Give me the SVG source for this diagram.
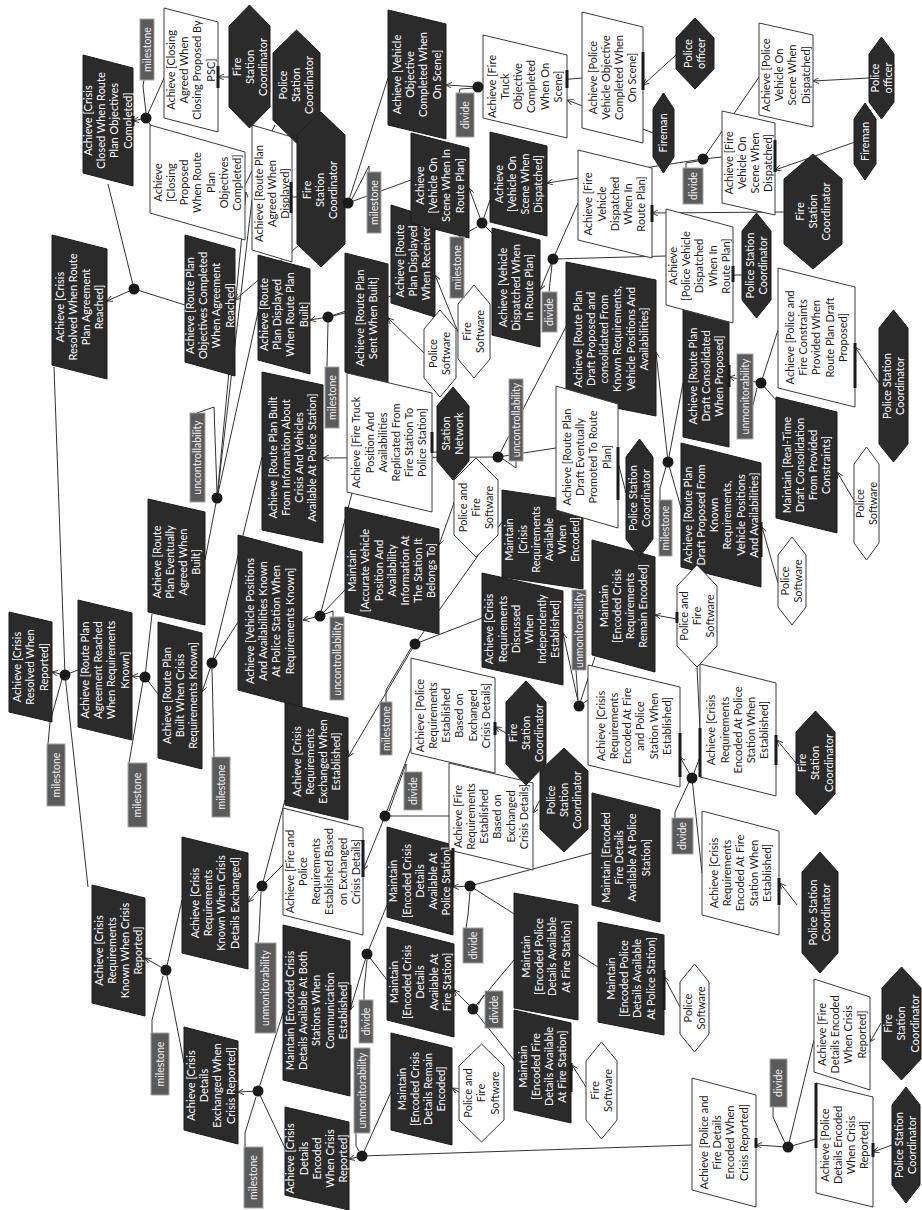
<svg xmlns="http://www.w3.org/2000/svg" width="922" height="1210" viewBox="0 0 922 1210">
<style>
.g{fill:#2b2b2b;stroke:#1c1c1c;stroke-width:1}
.w{fill:#fff;stroke:#3a3a3a;stroke-width:1}
.lb{fill:#5b5b5b;stroke:#a3a3a3;stroke-width:1}
text{font-family:Lato,"Liberation Sans",sans-serif;font-size:11px;text-anchor:middle}
.tw{fill:#fff}
.tk{fill:#1a1a1a}
.tl{fill:#f0f0f0;font-size:10.5px}
#connectors line,#connectors polyline{stroke:#333;stroke-width:1;fill:none}
#connectors .a{marker-end:url(#ah)}
.dot{fill:#1a1a1a}
#link-ends line{stroke:#1a1a1a;stroke-width:3}
</style>
<defs>
<marker id="ah" viewBox="0 0 8 8" refX="8" refY="4" markerWidth="6" markerHeight="6" orient="auto" markerUnits="userSpaceOnUse"><path d="M0,0 L8,4 L0,8" fill="none" stroke="#333" stroke-width="1.2"/></marker>
</defs>
<rect width="922" height="1210" fill="#fff"/>
<g id="connectors">
<line class="a" x1="146" y1="118" x2="133" y2="121"/><line x1="146" y1="118" x2="165" y2="76"/><line x1="146" y1="118" x2="151" y2="126"/>
<polyline points="144,80 143,86 146,113"/>
<line class="a" x1="134" y1="289" x2="107" y2="301"/><line x1="134" y1="289" x2="108" y2="184"/><line x1="134" y1="289" x2="185" y2="305"/>
<line x1="217" y1="498" x2="205" y2="560"/><line class="a" x1="217" y1="498" x2="246" y2="192"/><line x1="217" y1="498" x2="252" y2="200"/><line x1="217" y1="498" x2="258" y2="312"/>
<polyline points="197,413 214,407 217,493"/>
<line class="a" x1="65" y1="675" x2="52" y2="672"/><line x1="65" y1="675" x2="78" y2="670"/><line x1="65" y1="675" x2="54" y2="367"/><line x1="65" y1="675" x2="88" y2="887"/>
<polyline points="48,744 50,722 62,679"/>
<line class="a" x1="145" y1="677" x2="132" y2="676"/><line x1="145" y1="677" x2="158" y2="694"/><line x1="145" y1="677" x2="152" y2="614"/>
<line x1="129" y1="763" x2="143" y2="681"/>
<line class="a" x1="212" y1="663" x2="202" y2="692"/><line x1="212" y1="663" x2="238" y2="622"/><line x1="212" y1="663" x2="262" y2="457"/>
<line x1="214" y1="757" x2="212" y2="668"/>
<line class="a" x1="328" y1="317" x2="310" y2="320"/><line x1="328" y1="317" x2="345" y2="313"/><line x1="328" y1="317" x2="391" y2="296"/>
<line x1="327" y1="367" x2="328" y2="322"/>
<line class="a" x1="478" y1="87" x2="446" y2="85"/><line x1="478" y1="87" x2="483" y2="88"/><line x1="478" y1="87" x2="582" y2="78"/>
<polyline points="459,93 460,89 474,88"/>
<line class="a" x1="348" y1="203" x2="235" y2="300"/><line x1="348" y1="203" x2="388" y2="78"/><line x1="348" y1="203" x2="411" y2="180"/>
<polyline points="369,172 369,166 352,199"/>
<line class="a" x1="482" y1="223" x2="469" y2="188"/><line x1="482" y1="223" x2="490" y2="200"/><line x1="482" y1="223" x2="492" y2="233"/>
<polyline points="459,237 477,227"/>
<line class="a" x1="553" y1="259" x2="540" y2="290"/><line x1="553" y1="259" x2="578" y2="203"/><line x1="553" y1="259" x2="666" y2="256"/>
<line x1="549" y1="292" x2="552" y2="264"/>
<line class="a" x1="703" y1="159" x2="547" y2="183"/><line x1="703" y1="159" x2="722" y2="157"/><line x1="703" y1="159" x2="759" y2="77"/>
<polyline points="686,168 686,163 698,161"/>
<line class="a" x1="498" y1="457" x2="323" y2="458"/><line x1="498" y1="457" x2="556" y2="448"/><line x1="498" y1="457" x2="568" y2="323"/>
<polyline points="516,461 516,468 503,459"/>
<line class="a" x1="761" y1="383" x2="729" y2="377"/><line x1="761" y1="383" x2="778" y2="330"/><line x1="761" y1="383" x2="776" y2="400"/>
<polyline points="745,439 757,388"/>
<line class="a" x1="668" y1="462" x2="656" y2="352"/><line x1="668" y1="462" x2="683" y2="383"/><line x1="668" y1="462" x2="681" y2="508"/>
<polyline points="660,500 660,488 666,467"/>
<line class="a" x1="579" y1="706" x2="563" y2="633"/><line x1="579" y1="706" x2="595" y2="657"/><line x1="579" y1="706" x2="588" y2="700"/>
<line x1="576" y1="670" x2="578" y2="700"/>
<line class="a" x1="692" y1="778" x2="680" y2="757"/><line x1="692" y1="778" x2="700" y2="757"/><line x1="692" y1="778" x2="702" y2="873"/>
<polyline points="675,818 675,812 689,782"/>
<line class="a" x1="320" y1="616" x2="303" y2="620"/><line x1="320" y1="616" x2="345" y2="590"/><line x1="320" y1="616" x2="352" y2="493"/>
<polyline points="333,617 333,611 325,614"/>
<line class="a" x1="415" y1="644" x2="348" y2="757"/><line x1="415" y1="644" x2="482" y2="618"/><line x1="415" y1="644" x2="502" y2="522"/>
<polyline points="386,702 386,690 411,648"/>
<line class="a" x1="385" y1="816" x2="363" y2="870"/><line x1="385" y1="816" x2="411" y2="748"/><line x1="385" y1="816" x2="449" y2="816"/>
<polyline points="406,772 406,764 389,811"/>
<line class="a" x1="262" y1="886" x2="248" y2="902"/><line x1="262" y1="886" x2="283" y2="865"/><line x1="262" y1="886" x2="285" y2="800"/>
<polyline points="258,943 259,933 261,892"/>
<line class="a" x1="166" y1="970" x2="145" y2="958"/><line x1="166" y1="970" x2="182" y2="900"/><line x1="166" y1="970" x2="184" y2="1063"/>
<polyline points="152,1033 152,1020 163,976"/>
<line class="a" x1="258" y1="1091" x2="238" y2="1092"/><line x1="258" y1="1091" x2="283" y2="1013"/><line x1="258" y1="1091" x2="285" y2="1148"/>
<polyline points="245,1147 245,1133 256,1097"/>
<line class="a" x1="362" y1="1156" x2="349" y2="1159"/><line x1="362" y1="1156" x2="391" y2="1092"/><line x1="362" y1="1156" x2="692" y2="1145"/>
<polyline points="356,1133 356,1146 359,1151"/>
<line class="a" x1="367" y1="954" x2="350" y2="1010"/><line x1="367" y1="954" x2="387" y2="980"/><line x1="367" y1="954" x2="387" y2="905"/>
<polyline points="364,1000 364,990 367,960"/>
<line class="a" x1="470" y1="886" x2="453" y2="887"/><line x1="470" y1="886" x2="592" y2="853"/><line x1="470" y1="886" x2="598" y2="967"/>
<polyline points="466,928 468,915 470,892"/>
<line class="a" x1="473" y1="1009" x2="454" y2="990"/><line x1="473" y1="1009" x2="514" y2="960"/><line x1="473" y1="1009" x2="514" y2="1060"/>
<polyline points="486,997 484,995 478,1005"/>
<line class="a" x1="788" y1="1147" x2="756" y2="1145"/><line x1="788" y1="1147" x2="814" y2="1040"/><line x1="788" y1="1147" x2="816" y2="1139"/>
<polyline points="773,1107 773,1117 785,1143"/>
<line class="a" x1="229" y1="77" x2="218" y2="77"/>
<line x1="275" y1="125" x2="245" y2="185"/>
<line x1="297" y1="197" x2="292" y2="197"/>
<line class="a" x1="676" y1="55" x2="643" y2="85"/>
<line class="a" x1="653" y1="133" x2="567" y2="100"/>
<line class="a" x1="869" y1="78" x2="813" y2="81"/>
<line class="a" x1="855" y1="142" x2="775" y2="170"/>
<line class="a" x1="784" y1="212" x2="652" y2="213"/>
<line x1="742" y1="275" x2="733" y2="275"/>
<line class="a" x1="879" y1="383" x2="855" y2="347"/>
<line x1="626" y1="493" x2="618" y2="462"/>
<line x1="437" y1="452" x2="432" y2="452"/>
<line class="a" x1="424" y1="353" x2="388" y2="318"/>
<line class="a" x1="458" y1="332" x2="435" y2="275"/>
<line class="a" x1="455" y1="500" x2="439" y2="545"/>
<line class="a" x1="855" y1="502" x2="837" y2="472"/>
<line class="a" x1="778" y1="583" x2="762" y2="527"/>
<line class="a" x1="677" y1="619" x2="655" y2="615"/>
<line x1="697" y1="667" x2="700" y2="730"/>
<line class="a" x1="506" y1="733" x2="495" y2="727"/>
<line class="a" x1="540" y1="800" x2="533" y2="813"/>
<line class="a" x1="796" y1="763" x2="777" y2="740"/>
<line class="a" x1="797" y1="905" x2="780" y2="883"/>
<line class="a" x1="459" y1="1092" x2="452" y2="1088"/>
<line class="a" x1="586" y1="1087" x2="572" y2="1065"/>
<line class="a" x1="680" y1="1007" x2="664" y2="977"/>
<line class="a" x1="881" y1="1023" x2="870" y2="1042"/>
<line class="a" x1="892" y1="1145" x2="873" y2="1152"/>
</g>

<!-- black goals -->
<g id="G1"><polygon class="g" points="9,612 52,622 52,722 9,712"/><text class="tw" transform="translate(30.5,667) rotate(-90)"><tspan x="0" y="-9.4">Achieve [Crisis</tspan><tspan x="0" y="3.8">Resolved When</tspan><tspan x="0" y="17">Reported]</tspan></text></g>
<g id="G2"><polygon class="g" points="52,235 107,249 107,379 52,365"/><text class="tw" transform="translate(79.5,307) rotate(-90)"><tspan x="0" y="-16">Achieve [Crisis</tspan><tspan x="0" y="-2.8">Resolved When Route</tspan><tspan x="0" y="10.4">Plan Agreement</tspan><tspan x="0" y="23.6">Reached]</tspan></text></g>
<g id="G3"><polygon class="g" points="83,55 133,68 133,186 83,173"/><text class="tw" transform="translate(108,120.5) rotate(-90)"><tspan x="0" y="-16">Achieve [Crisis</tspan><tspan x="0" y="-2.8">Closed When Route</tspan><tspan x="0" y="10.4">Plan Objectives</tspan><tspan x="0" y="23.6">Completed]</tspan></text></g>
<g id="G4"><polygon class="g" points="185,235 235,249 235,376 185,362"/><text class="tw" transform="translate(210,305.5) rotate(-90)"><tspan x="0" y="-16">Achieve [Route Plan</tspan><tspan x="0" y="-2.8">Objectives Completed</tspan><tspan x="0" y="10.4">When Agreement</tspan><tspan x="0" y="23.6">Reached]</tspan></text></g>
<g id="G5"><polygon class="g" points="258,255 310,269 310,374 258,360"/><text class="tw" transform="translate(284,314.5) rotate(-90)"><tspan x="0" y="-16">Achieve [Route</tspan><tspan x="0" y="-2.8">Plan Displayed</tspan><tspan x="0" y="10.4">When Route Plan</tspan><tspan x="0" y="23.6">Built]</tspan></text></g>
<g id="G6"><polygon class="g" points="345,253 388,264 388,383 345,372"/><text class="tw" transform="translate(366.5,318) rotate(-90)"><tspan x="0" y="-2.8">Achieve [Route Plan</tspan><tspan x="0" y="10.4">Sent When Built]</tspan></text></g>
<g id="G7"><polygon class="g" points="391,205 435,219 435,317 391,303"/><text class="tw" transform="translate(413,261) rotate(-90)"><tspan x="0" y="-9.4">Achieve [Route</tspan><tspan x="0" y="3.8">Plan Displayed</tspan><tspan x="0" y="17">When Received]</tspan></text></g>
<g id="G8"><polygon class="g" points="388,10 446,24 446,139 388,125"/><text class="tw" transform="translate(417,74.5) rotate(-90)"><tspan x="0" y="-16">Achieve [Vehicle</tspan><tspan x="0" y="-2.8">Objective</tspan><tspan x="0" y="10.4">Completed When</tspan><tspan x="0" y="23.6">On Scene]</tspan></text></g>
<g id="G9"><polygon class="g" points="411,133 469,148 469,238 411,223"/><text class="tw" transform="translate(440,185.5) rotate(-90)"><tspan x="0" y="-16">Achieve</tspan><tspan x="0" y="-2.8">[Vehicle On</tspan><tspan x="0" y="10.4">Scene When In</tspan><tspan x="0" y="23.6">Route Plan]</tspan></text></g>
<g id="G10"><polygon class="g" points="490,132 547,146 547,236 490,222"/><text class="tw" transform="translate(518.5,184) rotate(-90)"><tspan x="0" y="-16">Achieve</tspan><tspan x="0" y="-2.8">[Vehicle On</tspan><tspan x="0" y="10.4">Scene When</tspan><tspan x="0" y="23.6">Dispatched]</tspan></text></g>
<g id="G11"><polygon class="g" points="492,228 540,240 540,347 492,335"/><text class="tw" transform="translate(516,287.5) rotate(-90)"><tspan x="0" y="-9.4">Achieve [Vehicle</tspan><tspan x="0" y="3.8">Dispatched When</tspan><tspan x="0" y="17">In Route Plan]</tspan></text></g>
<g id="G12"><polygon class="g" points="566,262 656,280 656,416 566,398"/><text class="tw" transform="translate(611,339) rotate(-90)"><tspan x="0" y="-29.2">Achieve [Route Plan</tspan><tspan x="0" y="-16">Draft Proposed and</tspan><tspan x="0" y="-2.8">consolidated From</tspan><tspan x="0" y="10.4">Known Requirements,</tspan><tspan x="0" y="23.6">Vehicle Positions And</tspan><tspan x="0" y="36.8">Availabilities]</tspan></text></g>
<g id="G13"><polygon class="g" points="683,305 729,315 729,447 683,437"/><text class="tw" transform="translate(706,376) rotate(-90)"><tspan x="0" y="-9.4">Achieve [Route Plan</tspan><tspan x="0" y="3.8">Draft Consolidated</tspan><tspan x="0" y="17">When Proposed]</tspan></text></g>
<g id="G14"><polygon class="g" points="776,397 837,412 837,533 776,518"/><text class="tw" transform="translate(806.5,465) rotate(-90)"><tspan x="0" y="-16">Maintain [Real-Time</tspan><tspan x="0" y="-2.8">Draft Consolidation</tspan><tspan x="0" y="10.4">From Provided</tspan><tspan x="0" y="23.6">Constraints]</tspan></text></g>
<g id="G15"><polygon class="g" points="681,443 761,463 761,587 681,567"/><text class="tw" transform="translate(721,515) rotate(-90)"><tspan x="0" y="-29.2">Achieve [Route Plan</tspan><tspan x="0" y="-16">Draft Proposed From</tspan><tspan x="0" y="-2.8">Known</tspan><tspan x="0" y="10.4">Requirements,</tspan><tspan x="0" y="23.6">Vehicle Positions</tspan><tspan x="0" y="36.8">And Availabilities]</tspan></text></g>
<g id="G16"><polygon class="g" points="262,372 323,385 323,543 262,530"/><text class="tw" transform="translate(292.5,457.5) rotate(-90)"><tspan x="0" y="-16">Achieve [Route Plan Built</tspan><tspan x="0" y="-2.8">From Information About</tspan><tspan x="0" y="10.4">Crisis And Vehicles</tspan><tspan x="0" y="23.6">Available At Police Station]</tspan></text></g>
<g id="G17"><polygon class="g" points="148,499 205,512 205,625 148,612"/><text class="tw" transform="translate(176.5,562) rotate(-90)"><tspan x="0" y="-16">Achieve [Route</tspan><tspan x="0" y="-2.8">Plan Eventually</tspan><tspan x="0" y="10.4">Agreed When</tspan><tspan x="0" y="23.6">Built]</tspan></text></g>
<g id="G18"><polygon class="g" points="78,600 132,613 132,740 78,727"/><text class="tw" transform="translate(105,670) rotate(-90)"><tspan x="0" y="-16">Achieve [Route Plan</tspan><tspan x="0" y="-2.8">Agreement Reached</tspan><tspan x="0" y="10.4">When Requirements</tspan><tspan x="0" y="23.6">Known]</tspan></text></g>
<g id="G19"><polygon class="g" points="158,622 202,633 202,769 158,758"/><text class="tw" transform="translate(180,695.5) rotate(-90)"><tspan x="0" y="-9.4">Achieve [Route Plan</tspan><tspan x="0" y="3.8">Built When Crisis</tspan><tspan x="0" y="17">Requirements Known]</tspan></text></g>
<g id="G20"><polygon class="g" points="238,535 302,552 302,707 238,690"/><text class="tw" transform="translate(270,621) rotate(-90)"><tspan x="0" y="-16">Achieve [Vehicle Positions</tspan><tspan x="0" y="-2.8">And Availabilities Known</tspan><tspan x="0" y="10.4">At Police Station When</tspan><tspan x="0" y="23.6">Requirements Known]</tspan></text></g>
<g id="G21"><polygon class="g" points="345,507 439,529 439,634 345,612"/><text class="tw" transform="translate(392,570.5) rotate(-90)"><tspan x="0" y="-35.8">Maintain</tspan><tspan x="0" y="-22.6">[Accurate Vehicle</tspan><tspan x="0" y="-9.4">Position And</tspan><tspan x="0" y="3.8">Availability</tspan><tspan x="0" y="17">Information At</tspan><tspan x="0" y="30.2">The Station It</tspan><tspan x="0" y="43.4">Belongs To]</tspan></text></g>
<g id="G22"><polygon class="g" points="502,490 583,502 583,589 502,577"/><text class="tw" transform="translate(542.5,539.5) rotate(-90)"><tspan x="0" y="-29.2">Maintain</tspan><tspan x="0" y="-16">[Crisis</tspan><tspan x="0" y="-2.8">Requirements</tspan><tspan x="0" y="10.4">Available</tspan><tspan x="0" y="23.6">When</tspan><tspan x="0" y="36.8">Encoded]</tspan></text></g>
<g id="G23"><polygon class="g" points="482,573 563,591 563,685 482,667"/><text class="tw" transform="translate(522.5,629) rotate(-90)"><tspan x="0" y="-29.2">Achieve [Crisis</tspan><tspan x="0" y="-16">Requirements</tspan><tspan x="0" y="-2.8">Discussed</tspan><tspan x="0" y="10.4">When</tspan><tspan x="0" y="23.6">Independently</tspan><tspan x="0" y="36.8">Established]</tspan></text></g>
<g id="G24"><polygon class="g" points="592,540 655,557 655,672 592,655"/><text class="tw" transform="translate(623.5,606) rotate(-90)"><tspan x="0" y="-16">Maintain</tspan><tspan x="0" y="-2.8">[Encoded Crisis</tspan><tspan x="0" y="10.4">Requirements</tspan><tspan x="0" y="23.6">Remain Encoded]</tspan></text></g>
<g id="G25"><polygon class="g" points="285,703 348,718 348,820 285,805"/><text class="tw" transform="translate(316.5,761.5) rotate(-90)"><tspan x="0" y="-16">Achieve [Crisis</tspan><tspan x="0" y="-2.8">Requirements</tspan><tspan x="0" y="10.4">Exchanged When</tspan><tspan x="0" y="23.6">Established]</tspan></text></g>
<g id="G26"><polygon class="g" points="182,837 248,853 248,969 182,953"/><text class="tw" transform="translate(215,903) rotate(-90)"><tspan x="0" y="-16">Achieve [Crisis</tspan><tspan x="0" y="-2.8">Requirements</tspan><tspan x="0" y="10.4">Known When Crisis</tspan><tspan x="0" y="23.6">Details Exchanged]</tspan></text></g>
<g id="G27"><polygon class="g" points="92,885 145,898 145,1016 92,1003"/><text class="tw" transform="translate(118.5,950.5) rotate(-90)"><tspan x="0" y="-16">Achieve [Crisis</tspan><tspan x="0" y="-2.8">Requirements</tspan><tspan x="0" y="10.4">Known When Crisis</tspan><tspan x="0" y="23.6">Reported]</tspan></text></g>
<g id="G28"><polygon class="g" points="184,1027 238,1041 238,1144 184,1130"/><text class="tw" transform="translate(211,1085.5) rotate(-90)"><tspan x="0" y="-16">Achieve [Crisis</tspan><tspan x="0" y="-2.8">Details</tspan><tspan x="0" y="10.4">Exchanged When</tspan><tspan x="0" y="23.6">Crisis Reported]</tspan></text></g>
<g id="G29"><polygon class="g" points="285,1107 349,1122 349,1210 285,1195"/><text class="tw" transform="translate(317,1158.5) rotate(-90)"><tspan x="0" y="-22.6">Achieve [Crisis</tspan><tspan x="0" y="-9.4">Details</tspan><tspan x="0" y="3.8">Encoded</tspan><tspan x="0" y="17">When Crisis</tspan><tspan x="0" y="30.2">Reported]</tspan></text></g>
<g id="G30"><polygon class="g" points="283,925 350,941 350,1096 283,1080"/><text class="tw" transform="translate(316.5,1010.5) rotate(-90)"><tspan x="0" y="-22.6">Maintain [Encoded Crisis</tspan><tspan x="0" y="-9.4">Details Available At Both</tspan><tspan x="0" y="3.8">Stations When</tspan><tspan x="0" y="17">Communication</tspan><tspan x="0" y="30.2">Established]</tspan></text></g>
<g id="G31"><polygon class="g" points="387,827 453,845 453,935 387,917"/><text class="tw" transform="translate(420,881) rotate(-90)"><tspan x="0" y="-22.6">Maintain</tspan><tspan x="0" y="-9.4">[Encoded Crisis</tspan><tspan x="0" y="3.8">Details</tspan><tspan x="0" y="17">Available At</tspan><tspan x="0" y="30.2">Police Station]</tspan></text></g>
<g id="G32"><polygon class="g" points="387,927 454,944 454,1037 387,1020"/><text class="tw" transform="translate(420.5,982) rotate(-90)"><tspan x="0" y="-22.6">Maintain</tspan><tspan x="0" y="-9.4">[Encoded Crisis</tspan><tspan x="0" y="3.8">Details</tspan><tspan x="0" y="17">Available At</tspan><tspan x="0" y="30.2">Fire Station]</tspan></text></g>
<g id="G33"><polygon class="g" points="391,1033 452,1048 452,1145 391,1130"/><text class="tw" transform="translate(421.5,1089) rotate(-90)"><tspan x="0" y="-16">Maintain</tspan><tspan x="0" y="-2.8">[Encoded Crisis</tspan><tspan x="0" y="10.4">Details Remain</tspan><tspan x="0" y="23.6">Encoded]</tspan></text></g>
<g id="G34"><polygon class="g" points="514,893 578,905 578,1020 514,1008"/><text class="tw" transform="translate(546,956.5) rotate(-90)"><tspan x="0" y="-16">Maintain</tspan><tspan x="0" y="-2.8">[Encoded Police</tspan><tspan x="0" y="10.4">Details Available</tspan><tspan x="0" y="23.6">At Fire Station]</tspan></text></g>
<g id="G35"><polygon class="g" points="514,1010 571,1023 571,1123 514,1110"/><text class="tw" transform="translate(542.5,1066.5) rotate(-90)"><tspan x="0" y="-16">Maintain</tspan><tspan x="0" y="-2.8">[Encoded Fire</tspan><tspan x="0" y="10.4">Details Available</tspan><tspan x="0" y="23.6">At Fire Station]</tspan></text></g>
<g id="G36"><polygon class="g" points="592,793 660,810 660,922 592,905"/><text class="tw" transform="translate(626,857.5) rotate(-90)"><tspan x="0" y="-16">Maintain [Encoded</tspan><tspan x="0" y="-2.8">Fire Details</tspan><tspan x="0" y="10.4">Available At Police</tspan><tspan x="0" y="23.6">Station]</tspan></text></g>
<g id="G37"><polygon class="g" points="598,922 664,935 664,1035 598,1022"/><text class="tw" transform="translate(631,978.5) rotate(-90)"><tspan x="0" y="-16">Maintain</tspan><tspan x="0" y="-2.8">[Encoded Police</tspan><tspan x="0" y="10.4">Details Available</tspan><tspan x="0" y="23.6">At Police Station]</tspan></text></g>

<!-- white goals -->
<g id="W1"><polygon class="w" points="164,8 218,22 218,132 164,118"/><text class="tk" transform="translate(191,70) rotate(-90)"><tspan x="0" y="-16">Achieve [Closing</tspan><tspan x="0" y="-2.8">Agreed When</tspan><tspan x="0" y="10.4">Closing Proposed By</tspan><tspan x="0" y="23.6">PSC]</tspan></text></g>
<g id="W2"><polygon class="w" points="150,125 245,152 245,240 150,213"/><text class="tk" transform="translate(197.5,182.5) rotate(-90)"><tspan x="0" y="-35.8">Achieve</tspan><tspan x="0" y="-22.6">[Closing</tspan><tspan x="0" y="-9.4">Proposed</tspan><tspan x="0" y="3.8">When Route</tspan><tspan x="0" y="17">Plan</tspan><tspan x="0" y="30.2">Objectives</tspan><tspan x="0" y="43.4">Completed]</tspan></text></g>
<g id="W3"><polygon class="w" points="252,125 292,137 292,262 252,250"/><text class="tk" transform="translate(272,193.5) rotate(-90)"><tspan x="0" y="-9.4">Achieve [Route Plan</tspan><tspan x="0" y="3.8">Agreed When</tspan><tspan x="0" y="17">Displayed]</tspan></text></g>
<g id="W4"><polygon class="w" points="483,35 567,55 567,138 483,118"/><text class="tk" transform="translate(525,86.5) rotate(-90)"><tspan x="0" y="-29.2">Achieve [Fire</tspan><tspan x="0" y="-16">Truck</tspan><tspan x="0" y="-2.8">Objective</tspan><tspan x="0" y="10.4">Completed</tspan><tspan x="0" y="23.6">When On</tspan><tspan x="0" y="36.8">Scene]</tspan></text></g>
<g id="W5"><polygon class="w" points="582,12 643,27 643,143 582,128"/><text class="tk" transform="translate(612.5,77.5) rotate(-90)"><tspan x="0" y="-16">Achieve [Police</tspan><tspan x="0" y="-2.8">Vehicle Objective</tspan><tspan x="0" y="10.4">Completed When</tspan><tspan x="0" y="23.6">On Scene]</tspan></text></g>
<g id="W6"><polygon class="w" points="759,23 813,35 813,127 759,115"/><text class="tk" transform="translate(786,75) rotate(-90)"><tspan x="0" y="-16">Achieve [Police</tspan><tspan x="0" y="-2.8">Vehicle On</tspan><tspan x="0" y="10.4">Scene When</tspan><tspan x="0" y="23.6">Dispatched]</tspan></text></g>
<g id="W7"><polygon class="w" points="722,111 775,123 775,215 722,203"/><text class="tk" transform="translate(748.5,163) rotate(-90)"><tspan x="0" y="-16">Achieve [Fire</tspan><tspan x="0" y="-2.8">Vehicle On</tspan><tspan x="0" y="10.4">Scene When</tspan><tspan x="0" y="23.6">Dispatched]</tspan></text></g>
<g id="W8"><polygon class="w" points="578,150 652,168 652,258 578,240"/><text class="tk" transform="translate(615,204) rotate(-90)"><tspan x="0" y="-22.6">Achieve [Fire</tspan><tspan x="0" y="-9.4">Vehicle</tspan><tspan x="0" y="3.8">Dispatched</tspan><tspan x="0" y="17">When In</tspan><tspan x="0" y="30.2">Route Plan]</tspan></text></g>
<g id="W9"><polygon class="w" points="666,209 733,227 733,323 666,305"/><text class="tk" transform="translate(699.5,266) rotate(-90)"><tspan x="0" y="-22.6">Achieve</tspan><tspan x="0" y="-9.4">[Police Vehicle</tspan><tspan x="0" y="3.8">Dispatched</tspan><tspan x="0" y="17">When In</tspan><tspan x="0" y="30.2">Route Plan]</tspan></text></g>
<g id="W10"><polygon class="w" points="778,268 855,287 855,407 778,388"/><text class="tk" transform="translate(816.5,337.5) rotate(-90)"><tspan x="0" y="-22.6">Achieve [Police and</tspan><tspan x="0" y="-9.4">Fire Constraints</tspan><tspan x="0" y="3.8">Provided When</tspan><tspan x="0" y="17">Route Plan Draft</tspan><tspan x="0" y="30.2">Proposed]</tspan></text></g>
<g id="W11"><polygon class="w" points="347,373 432,393 432,512 347,492"/><text class="tk" transform="translate(389.5,442.5) rotate(-90)"><tspan x="0" y="-29.2">Achieve [Fire Truck</tspan><tspan x="0" y="-16">Position And</tspan><tspan x="0" y="-2.8">Availabilities</tspan><tspan x="0" y="10.4">Replicated From</tspan><tspan x="0" y="23.6">Fire Station To</tspan><tspan x="0" y="36.8">Police Station]</tspan></text></g>
<g id="W12"><polygon class="w" points="556,386 618,404 618,528 556,510"/><text class="tk" transform="translate(587,457) rotate(-90)"><tspan x="0" y="-16">Achieve [Route Plan</tspan><tspan x="0" y="-2.8">Draft Eventually</tspan><tspan x="0" y="10.4">Promoted To Route</tspan><tspan x="0" y="23.6">Plan]</tspan></text></g>
<g id="W13"><polygon class="w" points="411,658 495,678 495,773 411,753"/><text class="tk" transform="translate(453,715.5) rotate(-90)"><tspan x="0" y="-29.2">Achieve [Police</tspan><tspan x="0" y="-16">Requirements</tspan><tspan x="0" y="-2.8">Established</tspan><tspan x="0" y="10.4">Based on</tspan><tspan x="0" y="23.6">Exchanged</tspan><tspan x="0" y="36.8">Crisis Details]</tspan></text></g>
<g id="W14"><polygon class="w" points="449,763 533,783 533,870 449,850"/><text class="tk" transform="translate(491,816.5) rotate(-90)"><tspan x="0" y="-29.2">Achieve [Fire</tspan><tspan x="0" y="-16">Requirements</tspan><tspan x="0" y="-2.8">Established</tspan><tspan x="0" y="10.4">Based on</tspan><tspan x="0" y="23.6">Exchanged</tspan><tspan x="0" y="36.8">Crisis Details]</tspan></text></g>
<g id="W15"><polygon class="w" points="283,808 363,828 363,935 283,915"/><text class="tk" transform="translate(323,871.5) rotate(-90)"><tspan x="0" y="-29.2">Achieve [Fire and</tspan><tspan x="0" y="-16">Police</tspan><tspan x="0" y="-2.8">Requirements</tspan><tspan x="0" y="10.4">Established Based</tspan><tspan x="0" y="23.6">on Exchanged</tspan><tspan x="0" y="36.8">Crisis Details]</tspan></text></g>
<g id="W16"><polygon class="w" points="588,665 680,687 680,787 588,765"/><text class="tk" transform="translate(634,726) rotate(-90)"><tspan x="0" y="-29.2">Achieve [Crisis</tspan><tspan x="0" y="-16">Requirements</tspan><tspan x="0" y="-2.8">Encoded At Fire</tspan><tspan x="0" y="10.4">and Police</tspan><tspan x="0" y="23.6">Station When</tspan><tspan x="0" y="36.8">Established]</tspan></text></g>
<g id="W17"><polygon class="w" points="700,664 776,683 776,796 700,777"/><text class="tk" transform="translate(738,730) rotate(-90)"><tspan x="0" y="-22.6">Achieve [Crisis</tspan><tspan x="0" y="-9.4">Requirements</tspan><tspan x="0" y="3.8">Encoded At Police</tspan><tspan x="0" y="17">Station When</tspan><tspan x="0" y="30.2">Established]</tspan></text></g>
<g id="W18"><polygon class="w" points="702,811 779,831 779,935 702,915"/><text class="tk" transform="translate(740.5,873) rotate(-90)"><tspan x="0" y="-22.6">Achieve [Crisis</tspan><tspan x="0" y="-9.4">Requirements</tspan><tspan x="0" y="3.8">Encoded At Fire</tspan><tspan x="0" y="17">Station When</tspan><tspan x="0" y="30.2">Established]</tspan></text></g>
<g id="W19"><polygon class="w" points="692,1078 756,1095 756,1207 692,1190"/><text class="tk" transform="translate(724,1142.5) rotate(-90)"><tspan x="0" y="-16">Achieve [Police and</tspan><tspan x="0" y="-2.8">Fire Details</tspan><tspan x="0" y="10.4">Encoded When</tspan><tspan x="0" y="23.6">Crisis Reported]</tspan></text></g>
<g id="W20"><polygon class="w" points="814,979 870,997 870,1090 814,1072"/><text class="tk" transform="translate(842,1034.5) rotate(-90)"><tspan x="0" y="-16">Achieve [Fire</tspan><tspan x="0" y="-2.8">Details Encoded</tspan><tspan x="0" y="10.4">When Crisis</tspan><tspan x="0" y="23.6">Reported]</tspan></text></g>
<g id="W21"><polygon class="w" points="816,1083 873,1097 873,1207 816,1193"/><text class="tk" transform="translate(844.5,1145) rotate(-90)"><tspan x="0" y="-16">Achieve [Police</tspan><tspan x="0" y="-2.8">Details Encoded</tspan><tspan x="0" y="10.4">When Crisis</tspan><tspan x="0" y="23.6">Reported]</tspan></text></g>

<!-- agents -->
<g id="A1"><polygon class="g" points="249.5,5 270,26 270,107 249.5,128 229,107 229,26"/><text class="tw" transform="translate(250,67) rotate(-90)"><tspan x="0" y="-9.4">Fire</tspan><tspan x="0" y="3.8">Station</tspan><tspan x="0" y="17">Coordinator</tspan></text></g>
<g id="A2"><polygon class="g" points="296.5,30 320,53 320,120 296.5,143 273,120 273,53"/><text class="tw" transform="translate(296,85) rotate(-90)"><tspan x="0" y="-9.4">Police</tspan><tspan x="0" y="3.8">Station</tspan><tspan x="0" y="17">Coordinator</tspan></text></g>
<g id="A3"><polygon class="g" points="321,112 345,135 345,244 321,267 297,244 297,135"/><text class="tw" transform="translate(320,190) rotate(-90)"><tspan x="0" y="-9.4">Fire</tspan><tspan x="0" y="3.8">Station</tspan><tspan x="0" y="17">Coordinator</tspan></text></g>
<g id="A4"><polygon class="g" points="695,18 714,38 714,69 695,89 676,69 676,38"/><text class="tw" transform="translate(695,53.5) rotate(-90)"><tspan x="0" y="-2.8">Police</tspan><tspan x="0" y="10.4">officer</tspan></text></g>
<g id="A5"><polygon class="g" points="663.5,93 674,109 674,157 663.5,173 653,157 653,109"/><text class="tw" transform="translate(663.5,133) rotate(-90)"><tspan x="0" y="3.8">Fireman</tspan></text></g>
<g id="A6"><polygon class="g" points="881.5,37 894,54 894,102 881.5,119 869,102 869,54"/><text class="tw" transform="translate(881.5,78) rotate(-90)"><tspan x="0" y="-2.8">Police</tspan><tspan x="0" y="10.4">officer</tspan></text></g>
<g id="A7"><polygon class="g" points="865,103 876,119 876,164 865,180 854,164 854,119"/><text class="tw" transform="translate(865,141.5) rotate(-90)"><tspan x="0" y="3.8">Fireman</tspan></text></g>
<g id="A8"><polygon class="g" points="813,154 842,179 842,244 813,269 784,244 784,179"/><text class="tw" transform="translate(813,211.5) rotate(-90)"><tspan x="0" y="-9.4">Fire</tspan><tspan x="0" y="3.8">Station</tspan><tspan x="0" y="17">Coordinator</tspan></text></g>
<g id="A9"><polygon class="g" points="756.5,213 771,231 771,300 756.5,318 742,300 742,231"/><text class="tw" transform="translate(756.5,265.5) rotate(-90)"><tspan x="0" y="-2.8">Police Station</tspan><tspan x="0" y="10.4">Coordinator</tspan></text></g>
<g id="A10"><polygon class="g" points="893.5,310 908,328 908,444 893.5,462 879,444 879,328"/><text class="tw" transform="translate(893.5,386) rotate(-90)"><tspan x="0" y="-2.8">Police Station</tspan><tspan x="0" y="10.4">Coordinator</tspan></text></g>
<g id="A11"><polygon class="g" points="639.5,439 653,457 653,539 639.5,557 626,539 626,457"/><text class="tw" transform="translate(639.5,498) rotate(-90)"><tspan x="0" y="-2.8">Police Station</tspan><tspan x="0" y="10.4">Coordinator</tspan></text></g>
<g id="A12"><polygon class="g" points="453,387 469,406 469,461 453,480 437,461 437,406"/><text class="tw" transform="translate(453,433.5) rotate(-90)"><tspan x="0" y="-2.8">Station</tspan><tspan x="0" y="10.4">Network</tspan></text></g>
<g id="A14"><polygon class="g" points="526,681 546,702 546,764 526,785 506,764 506,702"/><text class="tw" transform="translate(526,733) rotate(-90)"><tspan x="0" y="-9.4">Fire</tspan><tspan x="0" y="3.8">Station</tspan><tspan x="0" y="17">Coordinator</tspan></text></g>
<g id="A15"><polygon class="g" points="564,748 588,771 588,829 564,852 540,829 540,771"/><text class="tw" transform="translate(564,800) rotate(-90)"><tspan x="0" y="-9.4">Police</tspan><tspan x="0" y="3.8">Station</tspan><tspan x="0" y="17">Coordinator</tspan></text></g>
<g id="A16"><polygon class="g" points="815.5,711 835,732 835,794 815.5,815 796,794 796,732"/><text class="tw" transform="translate(815.5,763) rotate(-90)"><tspan x="0" y="-9.4">Fire</tspan><tspan x="0" y="3.8">Station</tspan><tspan x="0" y="17">Coordinator</tspan></text></g>
<g id="A17"><polygon class="g" points="820,852 838,872 838,953 820,973 802,953 802,872"/><text class="tw" transform="translate(820,912.5) rotate(-90)"><tspan x="0" y="-2.8">Police Station</tspan><tspan x="0" y="10.4">Coordinator</tspan></text></g>
<g id="A18"><polygon class="g" points="901.5,967 921,988 921,1059 901.5,1080 882,1059 882,988"/><text class="tw" transform="translate(901.5,1023.5) rotate(-90)"><tspan x="0" y="-9.4">Fire</tspan><tspan x="0" y="3.8">Station</tspan><tspan x="0" y="17">Coordinator</tspan></text></g>
<g id="A19"><polygon class="g" points="906,1087 920,1105 920,1185 906,1203 892,1185 892,1105"/><text class="tw" transform="translate(906,1145) rotate(-90)"><tspan x="0" y="-2.8">Police Station</tspan><tspan x="0" y="10.4">Coordinator</tspan></text></g>

<!-- software agents -->
<g id="S1"><polygon class="w" points="440,310 456,329 456,378 440,397 424,378 424,329"/><text class="tk" transform="translate(440,353.5) rotate(-90)"><tspan x="0" y="-2.8">Police</tspan><tspan x="0" y="10.4">Software</tspan></text></g>
<g id="S2"><polygon class="w" points="474,285 490,304 490,359 474,378 458,359 458,304"/><text class="tk" transform="translate(474,331.5) rotate(-90)"><tspan x="0" y="-2.8">Fire</tspan><tspan x="0" y="10.4">Software</tspan></text></g>
<g id="S3"><polygon class="w" points="476,458 498,480 498,535 476,557 454,535 454,480"/><text class="tk" transform="translate(476,507.5) rotate(-90)"><tspan x="0" y="-9.4">Police and</tspan><tspan x="0" y="3.8">Fire</tspan><tspan x="0" y="17">Software</tspan></text></g>
<g id="S4"><polygon class="w" points="866.5,447 879,464 879,543 866.5,560 854,543 854,464"/><text class="tk" transform="translate(866.5,503.5) rotate(-90)"><tspan x="0" y="-2.8">Police</tspan><tspan x="0" y="10.4">Software</tspan></text></g>
<g id="S5"><polygon class="w" points="792,537 806,555 806,607 792,625 778,607 778,555"/><text class="tk" transform="translate(792,581) rotate(-90)"><tspan x="0" y="-2.8">Police</tspan><tspan x="0" y="10.4">Software</tspan></text></g>
<g id="S6"><polygon class="w" points="697,565 717,586 717,646 697,667 677,646 677,586"/><text class="tk" transform="translate(697,616) rotate(-90)"><tspan x="0" y="-9.4">Police and</tspan><tspan x="0" y="3.8">Fire</tspan><tspan x="0" y="17">Software</tspan></text></g>
<g id="S7"><polygon class="w" points="481.5,1044 504,1066 504,1120 481.5,1142 459,1120 459,1066"/><text class="tk" transform="translate(481.5,1093) rotate(-90)"><tspan x="0" y="-9.4">Police and</tspan><tspan x="0" y="3.8">Fire</tspan><tspan x="0" y="17">Software</tspan></text></g>
<g id="S8"><polygon class="w" points="601.5,1042 617,1061 617,1120 601.5,1139 586,1120 586,1061"/><text class="tk" transform="translate(601.5,1090.5) rotate(-90)"><tspan x="0" y="-2.8">Fire</tspan><tspan x="0" y="10.4">Software</tspan></text></g>
<g id="S9"><polygon class="w" points="694.5,964 709,982 709,1034 694.5,1052 680,1034 680,982"/><text class="tk" transform="translate(694.5,1008) rotate(-90)"><tspan x="0" y="-2.8">Police</tspan><tspan x="0" y="10.4">Software</tspan></text></g>

<!-- refinement labels -->
<g id="L1"><rect class="lb" x="140" y="19" width="14" height="61"/><text class="tl" transform="translate(147,49.5) rotate(-90)" y="3.8">milestone</text></g>
<g id="L2"><rect class="lb" x="190" y="413" width="15" height="89"/><text class="tl" transform="translate(197.5,457.5) rotate(-90)" y="3.8">uncontrollability</text></g>
<g id="L3"><rect class="lb" x="47" y="744" width="18" height="62"/><text class="tl" transform="translate(56,775) rotate(-90)" y="3.8">milestone</text></g>
<g id="L4"><rect class="lb" x="128" y="763" width="19" height="64"/><text class="tl" transform="translate(137.5,795) rotate(-90)" y="3.8">milestone</text></g>
<g id="L5"><rect class="lb" x="212" y="757" width="18" height="60"/><text class="tl" transform="translate(221,787) rotate(-90)" y="3.8">milestone</text></g>
<g id="L6"><rect class="lb" x="325" y="367" width="14" height="61"/><text class="tl" transform="translate(332,397.5) rotate(-90)" y="3.8">milestone</text></g>
<g id="L7"><rect class="lb" x="456" y="93" width="18" height="44"/><text class="tl" transform="translate(465,115) rotate(-90)" y="3.8">divide</text></g>
<g id="L8"><rect class="lb" x="367" y="172" width="14" height="61"/><text class="tl" transform="translate(374,202.5) rotate(-90)" y="3.8">milestone</text></g>
<g id="L9"><rect class="lb" x="450" y="237" width="14" height="61"/><text class="tl" transform="translate(457,267.5) rotate(-90)" y="3.8">milestone</text></g>
<g id="L10"><rect class="lb" x="542" y="292" width="15" height="40"/><text class="tl" transform="translate(549.5,312) rotate(-90)" y="3.8">divide</text></g>
<g id="L11"><rect class="lb" x="683" y="168" width="20" height="36"/><text class="tl" transform="translate(693,186) rotate(-90)" y="3.8">divide</text></g>
<g id="L12"><rect class="lb" x="509" y="379" width="14" height="82"/><text class="tl" transform="translate(516,420) rotate(-90)" y="3.8">uncontrollability</text></g>
<g id="L13"><rect class="lb" x="737" y="354" width="16" height="85"/><text class="tl" transform="translate(745,396.5) rotate(-90)" y="3.8">unmonitorability</text></g>
<g id="L14"><rect class="lb" x="659" y="500" width="13" height="56"/><text class="tl" transform="translate(665.5,528) rotate(-90)" y="3.8">milestone</text></g>
<g id="L15"><rect class="lb" x="572" y="590" width="14" height="80"/><text class="tl" transform="translate(579,630) rotate(-90)" y="3.8">unmonitorability</text></g>
<g id="L16"><rect class="lb" x="330" y="617" width="14" height="83"/><text class="tl" transform="translate(337,658.5) rotate(-90)" y="3.8">uncontrollability</text></g>
<g id="L17"><rect class="lb" x="380" y="702" width="12" height="53"/><text class="tl" transform="translate(386,728.5) rotate(-90)" y="3.8">milestone</text></g>
<g id="L18"><rect class="lb" x="404" y="772" width="18" height="38"/><text class="tl" transform="translate(413,791) rotate(-90)" y="3.8">divide</text></g>
<g id="L19"><rect class="lb" x="672" y="818" width="21" height="36"/><text class="tl" transform="translate(682.5,836) rotate(-90)" y="3.8">divide</text></g>
<g id="L20"><rect class="lb" x="255" y="943" width="21" height="90"/><text class="tl" transform="translate(265.5,988) rotate(-90)" y="3.8">unmonitorability</text></g>
<g id="L21"><rect class="lb" x="151" y="1033" width="18" height="62"/><text class="tl" transform="translate(160,1064) rotate(-90)" y="3.8">milestone</text></g>
<g id="L22"><rect class="lb" x="244" y="1147" width="19" height="61"/><text class="tl" transform="translate(253.5,1177.5) rotate(-90)" y="3.8">milestone</text></g>
<g id="L23"><rect class="lb" x="354" y="1048" width="16" height="85"/><text class="tl" transform="translate(362,1090.5) rotate(-90)" y="3.8">unmonitorability</text></g>
<g id="L24"><rect class="lb" x="359" y="1000" width="14" height="43"/><text class="tl" transform="translate(366,1021.5) rotate(-90)" y="3.8">divide</text></g>
<g id="L25"><rect class="lb" x="463" y="928" width="20" height="35"/><text class="tl" transform="translate(473,945.5) rotate(-90)" y="3.8">divide</text></g>
<g id="L26"><rect class="lb" x="485" y="991" width="18" height="37"/><text class="tl" transform="translate(494,1009.5) rotate(-90)" y="3.8">divide</text></g>
<g id="L27"><rect class="lb" x="770" y="1059" width="17" height="48"/><text class="tl" transform="translate(778.5,1083) rotate(-90)" y="3.8">divide</text></g>

<!-- refinement nodes -->
<g id="refinements">
<circle class="dot" cx="146" cy="118" r="5.5"/><circle class="dot" cx="134" cy="289" r="5.5"/><circle class="dot" cx="217" cy="498" r="5.5"/><circle class="dot" cx="65" cy="675" r="5.5"/><circle class="dot" cx="145" cy="677" r="5.5"/><circle class="dot" cx="212" cy="663" r="5.5"/><circle class="dot" cx="328" cy="317" r="5.5"/><circle class="dot" cx="478" cy="87" r="5.5"/><circle class="dot" cx="348" cy="203" r="5.5"/><circle class="dot" cx="482" cy="223" r="5.5"/><circle class="dot" cx="553" cy="259" r="5.5"/><circle class="dot" cx="703" cy="159" r="5.5"/><circle class="dot" cx="498" cy="457" r="5.5"/><circle class="dot" cx="761" cy="383" r="5.5"/><circle class="dot" cx="668" cy="462" r="5.5"/><circle class="dot" cx="579" cy="706" r="5.5"/><circle class="dot" cx="692" cy="778" r="5.5"/><circle class="dot" cx="320" cy="616" r="5.5"/><circle class="dot" cx="415" cy="644" r="5.5"/><circle class="dot" cx="385" cy="816" r="5.5"/><circle class="dot" cx="262" cy="886" r="5.5"/><circle class="dot" cx="166" cy="970" r="5.5"/><circle class="dot" cx="258" cy="1091" r="5.5"/><circle class="dot" cx="362" cy="1156" r="5.5"/><circle class="dot" cx="367" cy="954" r="5.5"/><circle class="dot" cx="470" cy="886" r="5.5"/><circle class="dot" cx="473" cy="1009" r="5.5"/><circle class="dot" cx="788" cy="1147" r="5.5"/>
</g>

<g id="link-ends">
<line x1="218" y1="66" x2="218" y2="88"/><line x1="133" y1="116" x2="133" y2="126"/><line x1="291" y1="182" x2="291" y2="213"/><line x1="567" y1="70" x2="567" y2="88"/><line x1="643" y1="52" x2="643" y2="90"/><line x1="775" y1="140" x2="775" y2="172"/><line x1="652" y1="205" x2="652" y2="222"/><line x1="733" y1="266" x2="733" y2="282"/><line x1="729" y1="365" x2="729" y2="387"/><line x1="855" y1="343" x2="855" y2="388"/><line x1="761" y1="522" x2="761" y2="557"/><line x1="432" y1="432" x2="432" y2="453"/><line x1="618" y1="447" x2="618" y2="500"/><line x1="677" y1="612" x2="677" y2="623"/><line x1="680" y1="733" x2="680" y2="777"/><line x1="700" y1="728" x2="700" y2="777"/><line x1="776" y1="735" x2="776" y2="765"/><line x1="495" y1="722" x2="495" y2="735"/><line x1="571" y1="1063" x2="571" y2="1092"/><line x1="664" y1="970" x2="664" y2="1010"/><line x1="873" y1="1143" x2="873" y2="1157"/><line x1="756" y1="1138" x2="756" y2="1148"/><line x1="816" y1="1083" x2="816" y2="1148"/><line x1="350" y1="985" x2="350" y2="1010"/><line x1="453" y1="848" x2="453" y2="887"/><line x1="363" y1="840" x2="363" y2="877"/><line x1="779" y1="878" x2="779" y2="905"/>
</g>
</svg>
